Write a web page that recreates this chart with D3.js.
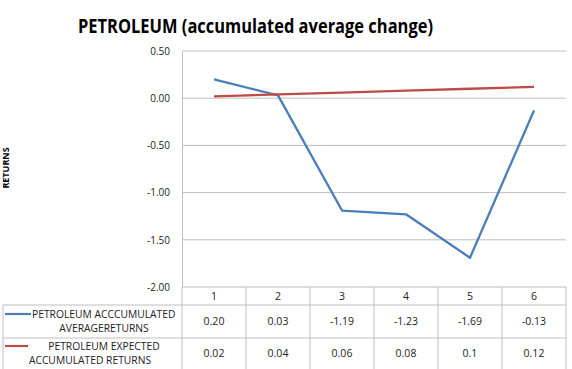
<!DOCTYPE html>
<html><head><meta charset="utf-8">
<script src="https://cdn.jsdelivr.net/npm/d3@7"></script>
<style>body{margin:0;background:#fff}svg{display:block}</style>
</head><body>
<script>
const categories = ["1","2","3","4","5","6"];
const seriesNames = [["PETROLEUM ACCCUMULATED","AVERAGERETURNS"],["PETROLEUM EXPECTED","ACCUMULATED RETURNS"]];
const actualReturns = [0.20, 0.03, -1.19, -1.23, -1.69, -0.13];
const expectedReturns = [0.02, 0.04, 0.06, 0.08, 0.1, 0.12];
const actualLabels = ["0.20","0.03","-1.19","-1.23","-1.69","-0.13"];
const expectedLabels = ["0.02","0.04","0.06","0.08","0.1","0.12"];
const yTicks = [0.5, 0, -0.5, -1, -1.5, -2];
const colors = ["#4a7ebb", "#be4b48"];

(function(){
const W = 572, H = 369;
const svg = d3.select("body").append("svg").attr("width", W).attr("height", H);
const font = "'Open Sans', sans-serif";
const gridColor = "#bfbfbf";

const pLeft = 182, pRight = 566, pTop = 51, pBottom = 287;
const x = d3.scaleBand().domain(categories).range([pLeft, pRight]);
const y = d3.scaleLinear().domain([-2, 0.5]).range([pBottom, pTop]);

// title
svg.append("text").attr("x", 78).attr("y", 33)
  .attr("font-family", font).attr("font-weight", "bold").attr("font-size", 19)
  .attr("textLength", 355).attr("lengthAdjust", "spacingAndGlyphs")
  .attr("fill", "#000").text("PETROLEUM (accumulated average change)");

// y axis title
svg.append("text").attr("transform", "translate(9,168) rotate(-90)")
  .attr("text-anchor", "middle").attr("font-family", font).attr("font-weight", "bold")
  .attr("font-size", 9).text("RETURNS");

// gridlines
svg.append("g").selectAll("line").data(yTicks.filter(d => d > -2)).join("line")
  .attr("x1", pLeft).attr("x2", pRight).attr("y1", d => y(d)).attr("y2", d => y(d))
  .attr("stroke", gridColor).attr("stroke-width", 1);

// y axis
const yAxis = d3.axisLeft(y).tickValues(yTicks).tickFormat(d => d.toFixed(2)).tickSize(0).tickPadding(12);
const ga = svg.append("g").attr("transform", `translate(${pLeft},0)`).call(yAxis);
ga.select(".domain").attr("stroke", gridColor);
ga.selectAll("text").attr("font-family", font).attr("font-size", 10).attr("fill", "#222");

// table
const rowTop = 287, headBottom = 305, row1Bottom = 338, row2Bottom = 369, labLeft = 3;
const tg = svg.append("g").attr("stroke", gridColor).attr("stroke-width", 1).attr("fill", "none");
tg.append("line").attr("x1", pLeft).attr("x2", pRight).attr("y1", rowTop).attr("y2", rowTop);
tg.append("line").attr("x1", labLeft).attr("x2", pRight).attr("y1", headBottom).attr("y2", headBottom);
tg.append("line").attr("x1", labLeft).attr("x2", pRight).attr("y1", row1Bottom).attr("y2", row1Bottom);
tg.append("line").attr("x1", labLeft).attr("x2", labLeft).attr("y1", headBottom).attr("y2", row2Bottom);
tg.selectAll("line.v").data(categories).join("line").attr("class","v")
  .attr("x1", d => x(d) + x.bandwidth()).attr("x2", d => x(d) + x.bandwidth())
  .attr("y1", rowTop).attr("y2", row2Bottom);
tg.append("line").attr("x1", pLeft).attr("x2", pLeft).attr("y1", rowTop).attr("y2", row2Bottom);

const cx = d => x(d) + x.bandwidth() / 2;
svg.append("g").selectAll("text").data(categories).join("text")
  .attr("x", cx).attr("y", 300).attr("text-anchor", "middle")
  .attr("font-family", font).attr("font-size", 10.5).attr("fill", "#222").text(d => d);
svg.append("g").selectAll("text").data(actualLabels).join("text")
  .attr("x", (d, i) => cx(categories[i])).attr("y", 325).attr("text-anchor", "middle")
  .attr("font-family", font).attr("font-size", 10.5).attr("fill", "#222").text(d => d);
svg.append("g").selectAll("text").data(expectedLabels).join("text")
  .attr("x", (d, i) => cx(categories[i])).attr("y", 357).attr("text-anchor", "middle")
  .attr("font-family", font).attr("font-size", 10.5).attr("fill", "#222").text(d => d);

// legend keys in table
const legY = [314, 346];
const legX = [[5, 31], [5, 28]];
seriesNames.forEach((names, i) => {
  svg.append("line").attr("x1", legX[i][0]).attr("x2", legX[i][1]).attr("y1", legY[i]).attr("y2", legY[i])
    .attr("stroke", colors[i]).attr("stroke-width", 2.2);
});
const lt = svg.append("g").attr("font-family", font).attr("font-size", 10.3).attr("fill", "#222");
lt.append("text").attr("x", 32).attr("y", 318).text(seriesNames[0][0]);
lt.append("text").attr("x", 104).attr("y", 332).attr("text-anchor", "middle").text(seriesNames[0][1]);
lt.append("text").attr("x", 104).attr("y", 350).attr("text-anchor", "middle").text(seriesNames[1][0]);
lt.append("text").attr("x", 90).attr("y", 364).attr("text-anchor", "middle").text(seriesNames[1][1]);

// lines
const line = d3.line().x((d, i) => cx(categories[i])).y(d => y(d));
[actualReturns, expectedReturns].forEach((s, i) => {
  svg.append("path").datum(s).attr("d", line).attr("fill", "none")
    .attr("stroke", colors[i]).attr("stroke-width", 2.3).attr("stroke-linejoin", "round");
});
})();
</script>
</body></html>
